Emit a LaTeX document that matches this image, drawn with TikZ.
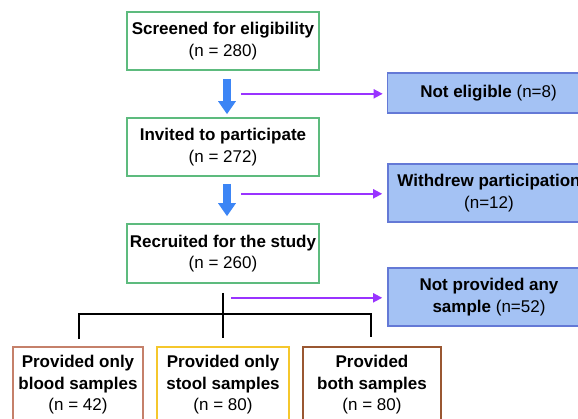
\documentclass[tikz,border=0pt]{standalone}
\usepackage{fontspec}
\setmainfont{Liberation Sans}
\usetikzlibrary{arrows.meta,calc}
\definecolor{gbord}{HTML}{5DBB7E}
\definecolor{bfill}{HTML}{A4C2F4}
\definecolor{bbord}{HTML}{6479D6}
\definecolor{barrow}{HTML}{3C85F5}
\definecolor{parrow}{HTML}{9933FF}
\definecolor{bloodc}{HTML}{C5806A}
\definecolor{stoolc}{HTML}{F5C72C}
\definecolor{bothc}{HTML}{9A5731}
\begin{document}
\begin{tikzpicture}[x=1pt,y=-1pt,
  every node/.style={font=\fontsize{17}{21.5}\selectfont, align=center, inner sep=0pt, line width=1.6pt},
  greenbox/.style={draw=gbord, minimum width=192pt, minimum height=58pt},
  bluebox/.style={draw=bbord, fill=bfill, minimum width=202pt},
  sampbox/.style={minimum height=76pt},
  thickarrow/.style={draw=barrow, line width=8pt, -{Triangle[width=17pt,length=13pt,fill=barrow]}},
  sidearrow/.style={draw=parrow, line width=1.8pt, -{Triangle[width=9pt,length=9pt,fill=parrow]}},
  treeline/.style={draw=black, line width=1.5pt}]
\useasboundingbox (0,0) rectangle (578,418);
\clip (0,0) rectangle (578,418);
\fill[white] (0,0) rectangle (578,418);

\node[greenbox] (screen) at (223,41) {\textbf{Screened for eligibility}\\(n = 280)};
\node[greenbox] (invite) at (223,147) {\textbf{Invited to participate}\\(n = 272)};
\node[greenbox, minimum height=59pt] (recruit) at (223,253.5) {\textbf{Recruited for the study}\\(n = 260)};

\node[bluebox, minimum height=40pt] (noteli) at (488.5,93) {\textbf{Not eligible} (n=8)};
\node[bluebox, minimum height=58pt] (withdrew) at (489,193) {\textbf{Withdrew participation}\\(n=12)};
\node[bluebox, minimum height=58pt] (noprov) at (489,297) {\textbf{Not provided any}\\\textbf{sample} (n=52)};

\node[sampbox, draw=bloodc, minimum width=130pt] (blood) at (78,385) {\textbf{Provided only}\\\textbf{blood samples}\\(n = 42)};
\node[sampbox, draw=stoolc, minimum width=132pt] (stool) at (223,385) {\textbf{Provided only}\\\textbf{stool samples}\\(n = 80)};
\node[sampbox, draw=bothc, minimum width=138pt] (both) at (372,385) {\textbf{Provided}\\\textbf{both samples}\\(n = 80)};

\draw[thickarrow] ($(screen.south)+(4,8)$) -- ($(invite.north)+(4,-3)$);
\draw[thickarrow] ($(invite.south)+(4,7)$) -- ($(recruit.north)+(4,-7)$);

\coordinate (p1) at ($(screen.south)+(18,23)$);
\coordinate (p2) at ($(invite.south)+(18,17)$);
\coordinate (p3) at ($(recruit.south)+(8,14)$);
\draw[sidearrow, shorten >=4pt] (p1) -- (p1 -| noteli.west);
\draw[sidearrow, shorten >=5pt] (p2) -- (p2 -| withdrew.west);
\draw[sidearrow, shorten >=5pt] (p3) -- (p3 -| noprov.west);

\coordinate (trunktop) at ($(recruit.south)+(0,9)$);
\coordinate (trunkbot) at ($(stool.north)+(0,-8)$);
\coordinate (bar) at ($(recruit.south)+(0,30)$);
\draw[treeline] (trunktop) -- (trunkbot);
\draw[treeline] ($(blood.north)+(1,-7)$) |- (bar) -| ($(both.north)+(-1,-9)$);
\end{tikzpicture}
\end{document}
